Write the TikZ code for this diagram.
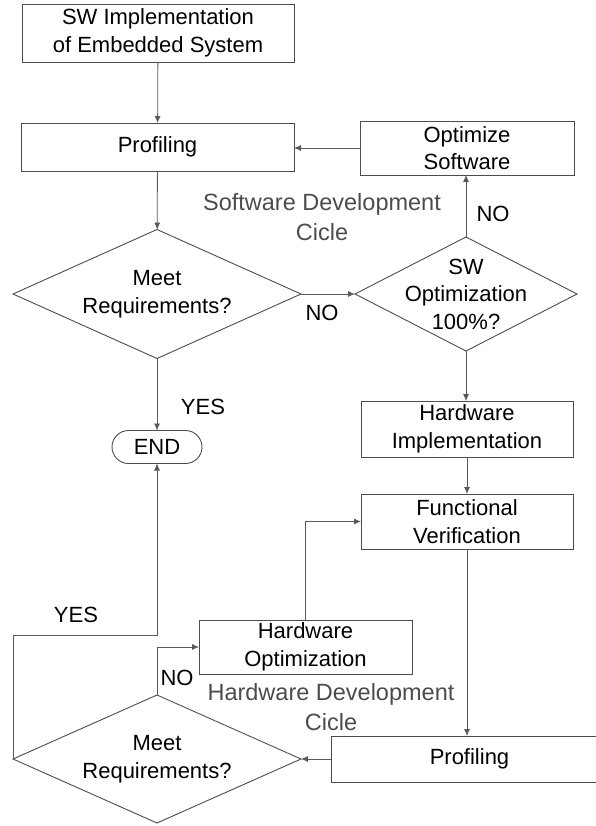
\documentclass[tikz,border=0pt]{standalone}
\usepackage{fontspec}
\setmainfont{Liberation Sans}
\usetikzlibrary{shapes.geometric, shapes.misc, arrows.meta}

\begin{document}
\begin{tikzpicture}[x=1pt, y=-1pt, font=\fontsize{22}{27.5}\selectfont]
    % --- Styles ---
    \tikzset{
        procbox/.style={draw=black!70, line width=0.9pt, align=center, inner sep=0pt, outer sep=0pt},
        decision/.style={diamond, draw=black!70, line width=0.9pt, align=center, inner sep=-10pt, outer sep=0pt},
        terminal/.style={rounded rectangle, draw=black!70, line width=0.9pt, inner sep=0pt, outer sep=0pt},
        flow/.style={draw=black!65, line width=0.8pt, -{Latex[length=7pt, width=6pt]}},
        cyclelabel/.style={text=black!70, align=center, font=\fontsize{23.5}{30}\selectfont}
    }
    \useasboundingbox (0,0) rectangle (596,826);

    % --- Software part ---
    \node[procbox, minimum width=272pt, minimum height=58pt] (swimpl) at (158,33) {SW Implementation\\of Embedded System};
    \node[procbox, minimum width=273pt, minimum height=48pt] (prof1) at (157.5,147) {Profiling};
    \node[procbox, minimum width=214pt, minimum height=54pt] (optsw) at (467,148) {Optimize\\Software};
    \node[decision, aspect=2.25, minimum width=288pt, minimum height=129pt] (meet1) at (157,294) {Meet\\Requirements?};
    \node[decision, aspect=1.95, minimum width=222pt, minimum height=114pt] (swopt) at (466,294) {SW\\Optimization\\100\%?};
    \node[terminal, minimum width=90pt, minimum height=33pt] (endnode) at (157,447) {END};

    % --- Hardware part ---
    \node[procbox, minimum width=212pt, minimum height=56pt] (hwimpl) at (467,429) {Hardware\\Implementation};
    \node[procbox, minimum width=212pt, minimum height=55pt] (funcver) at (467,521.5) {Functional\\Verification};
    \node[procbox, minimum width=213pt, minimum height=54pt] (hwopt) at (305.5,647) {Hardware\\Optimization};
    \node[procbox, minimum width=277pt, minimum height=46pt] (prof2) at (469.5,759) {Profiling};
    \node[decision, aspect=2.25, minimum width=288pt, minimum height=128pt] (meet2) at (157,759) {Meet\\Requirements?};

    % --- Labels ---
    \node[cyclelabel] (swcycle) at (322,217) {Software Development\\Cicle};
    \node[cyclelabel] (hwcycle) at (331,707) {Hardware Development\\Cicle};
    \node (no1) at (493,214) {NO};
    \node (no2) at (322,313) {NO};
    \node (yes1) at (203,407) {YES};
    \node (yes2) at (76,615) {YES};
    \node (no3) at (177,678) {NO};
    \coordinate (yesbend) at (157,635);

    % --- Connectors ---
    \draw[flow] (swimpl) -- (prof1);
    \draw[flow] (optsw.west) -- (optsw.west -| prof1.east);
    \draw[flow] (prof1) -- (meet1);
    \draw[flow] (meet1.east) -- (swopt.west);
    \draw[flow] (swopt.north) -- (swopt.north |- optsw.south);
    \draw[flow] (swopt.south) -- (swopt.south |- hwimpl.north);
    \draw[flow] (meet1.south) -- (endnode.north);
    \draw[flow] (hwimpl) -- (funcver);
    \draw[flow] (funcver.south) -- (funcver.south |- prof2.north);
    \draw[flow] (prof2.west) -- (meet2.east);
    \draw[flow] (meet2.north) |- (hwopt.west);
    \draw[flow] (hwopt.north) |- (funcver.west);
    \draw[flow] (meet2.west) -- (meet2.west |- yesbend) -- (yesbend) -- (endnode.south);
\end{tikzpicture}
\end{document}
